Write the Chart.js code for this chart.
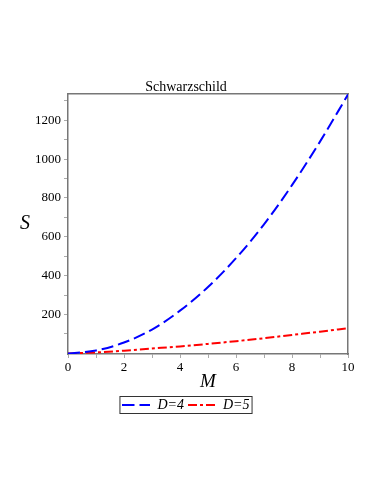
<!DOCTYPE html>
<html>
<head>
<meta charset="utf-8">
<script src="https://cdn.jsdelivr.net/npm/chart.js@4/dist/chart.umd.min.js"></script>
<style>
  html, body { margin: 0; padding: 0; background: #fff; }
  canvas { display: block; }
</style>
</head>
<body>
<canvas id="grafico" width="382" height="494"></canvas>
<script>
const massValues = [0, 1, 2, 3, 4, 5, 6, 7, 8, 9, 10];
const entropyD4 = [0, 15, 56, 123, 220, 342, 490, 664, 866, 1090, 1332];
const entropyD5 = [0, 5, 14, 25, 36, 49, 63, 78, 95, 112, 130];
const yTickValues = [100, 200, 300, 400, 500, 600, 700, 800, 900, 1000, 1100, 1200, 1300];
const xTickValues = [0, 1, 2, 3, 4, 5, 6, 7, 8, 9, 10];

const serif = '"Liberation Serif", "DejaVu Serif", serif';
const frameColor = '#777';
const tickColor = '#aaa';
const sampleWidth = 28;

// pontos {x, y} montados a partir dos arrays
const toPoints = (ys) => massValues.map((m, i) => ({ x: m, y: ys[i] }));

// amostra tracejada para a legenda (o pointStyle 'line' ignora o dash)
function legendSample(color, dash) {
  const c = document.createElement('canvas');
  c.width = sampleWidth;
  c.height = 4;
  const g = c.getContext('2d');
  g.strokeStyle = color;
  g.lineWidth = 2;
  g.setLineDash(dash);
  g.beginPath();
  g.moveTo(0, 2);
  g.lineTo(sampleWidth, 2);
  g.stroke();
  return c;
}

const dashD4 = [12, 5];
const dashD5 = [9, 3, 3, 3];

// "S" em pé e a moldura da legenda
const extraText = {
  id: 'extraText',
  afterDraw(chart) {
    const { ctx, chartArea } = chart;
    ctx.save();
    ctx.fillStyle = '#000';
    ctx.font = 'italic 20px ' + serif;
    ctx.textAlign = 'center';
    ctx.textBaseline = 'middle';
    ctx.fillText('S', 25, (chartArea.top + chartArea.bottom) / 2);

    const boxes = chart.legend.legendHitBoxes;
    if (boxes && boxes.length) {
      const first = boxes[0];
      const last = boxes[boxes.length - 1];
      ctx.strokeStyle = '#333';
      ctx.lineWidth = 1;
      ctx.strokeRect(first.left - 2.5, first.top - 1.5, last.left + last.width - first.left + 5, first.height + 3);
    }
    ctx.restore();
  }
};

const ctx = document.getElementById('grafico').getContext('2d');
new Chart(ctx, {
  type: 'line',
  data: {
    datasets: [{
      label: 'D=4',
      data: toPoints(entropyD4),
      borderColor: '#0000ff',
      backgroundColor: '#0000ff',
      borderWidth: 2,
      borderDash: dashD4,
      pointRadius: 0,
      pointStyle: legendSample('#0000ff', dashD4),
      cubicInterpolationMode: 'monotone',
      fill: false
    }, {
      label: 'D=5',
      data: toPoints(entropyD5),
      borderColor: '#ff0000',
      backgroundColor: '#ff0000',
      borderWidth: 2,
      borderDash: dashD5,
      pointRadius: 0,
      pointStyle: legendSample('#ff0000', dashD5),
      cubicInterpolationMode: 'monotone',
      fill: false
    }]
  },
  options: {
    responsive: false,
    animation: false,
    layout: { padding: { left: 0, right: 10, top: 0, bottom: 72 } },
    plugins: {
      title: {
        display: true,
        text: 'Schwarzschild',
        color: '#000',
        font: { family: serif, size: 14, weight: 'normal', lineHeight: 1 },
        padding: { top: 80, bottom: 0 }
      },
      legend: {
        position: 'bottom',
        labels: {
          usePointStyle: true,
          pointStyleWidth: sampleWidth,
          color: '#000',
          padding: 4,
          font: { family: serif, size: 14, style: 'italic' }
        }
      },
      tooltip: { enabled: false }
    },
    scales: {
      x: {
        type: 'linear',
        position: 'bottom',
        min: 0,
        max: 10,
        afterFit: (scale) => { scale.height = 40; },
        afterBuildTicks: (scale) => { scale.ticks = xTickValues.map(v => ({ value: v })); },
        ticks: {
          color: '#000',
          padding: 2,
          maxRotation: 0,
          font: { family: serif, size: 13 },
          callback: (v) => (v % 2 === 0 ? String(v) : '')
        },
        grid: { drawOnChartArea: false, tickLength: 4, color: tickColor },
        border: { color: frameColor, width: 1.5 },
        title: {
          display: true,
          text: 'M',
          color: '#000',
          font: { family: serif, size: 19, style: 'italic', lineHeight: 1 },
          padding: { top: 0, bottom: 3 }
        }
      },
      xTop: {
        type: 'linear',
        position: 'top',
        min: 0,
        max: 10,
        afterFit: (scale) => { scale.height = 0; },
        ticks: { display: false },
        grid: { display: false },
        border: { color: frameColor, width: 1.5 }
      },
      y: {
        type: 'linear',
        position: 'left',
        min: -3,
        max: 1335,
        afterFit: (scale) => { scale.width = 68; },
        afterBuildTicks: (scale) => { scale.ticks = yTickValues.map(v => ({ value: v })); },
        ticks: {
          color: '#000',
          padding: 3,
          font: { family: serif, size: 13 },
          callback: (v) => (v % 200 === 0 ? String(v) : '')
        },
        grid: { drawOnChartArea: false, tickLength: 4, color: tickColor },
        border: { color: frameColor, width: 1.5 }
      },
      yRight: {
        type: 'linear',
        position: 'right',
        min: 0,
        max: 1,
        afterFit: (scale) => { scale.width = 24; },
        ticks: { display: false },
        grid: { display: false },
        border: { color: frameColor, width: 1.5 }
      }
    }
  },
  plugins: [extraText]
});
</script>
</body>
</html>
